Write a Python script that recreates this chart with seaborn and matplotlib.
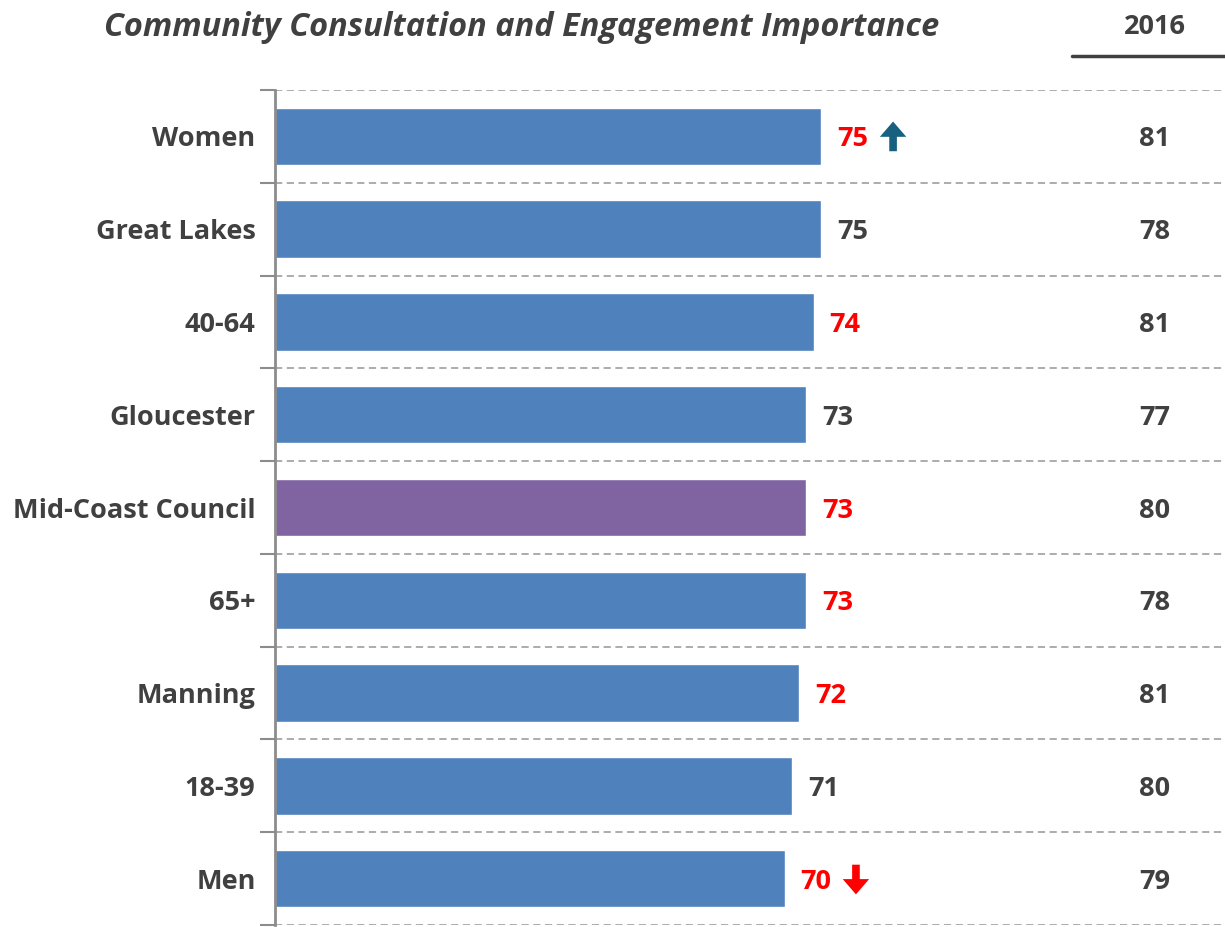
import matplotlib
matplotlib.use("Agg")
import matplotlib.pyplot as plt
import seaborn as sns
import pandas as pd
import numpy as np

categories = ["Women", "Great Lakes", "40-64", "Gloucester", "Mid-Coast Council",
              "65+", "Manning", "18-39", "Men"]
scores_2018 = [75, 75, 74, 73, 73, 73, 72, 71, 70]
scores_2016 = [81, 78, 81, 77, 80, 78, 81, 80, 79]
significant = [True, False, True, False, True, True, True, False, True]
trend = ["up", None, None, None, None, None, None, None, "down"]

sns.set_theme(style="white")
plt.rcParams["font.family"] = ["Open Sans", "DejaVu Sans"]

BLUE = "#4F81BD"
PURPLE = "#8064A2"
DARK = "#404040"
RED = "#FF0000"
TEAL = "#17607F"
FS = 19.5

df = pd.DataFrame({"category": categories, "score": scores_2018})
df["group"] = np.where(df["category"] == "Mid-Coast Council", "council", "other")

fig = plt.figure(figsize=(12.25, 9.27), dpi=100)
ax = fig.add_axes([275 / 1225, 2 / 927, 950 / 1225, (927 - 92) / 927])

sns.barplot(data=df, y="category", x="score", hue="group", orient="h",
            palette={"council": PURPLE, "other": BLUE}, dodge=False,
            width=0.62, legend=False, ax=ax, saturation=1)

ax.set_xlim(0, 950 / 7.28)
ax.set_ylim(len(categories) - 0.5, -0.5)
ax.set_xlabel("")
ax.set_ylabel("")
ax.set_xticks([])

# category boundaries as dashed separators
bounds = np.arange(-0.5, len(categories), 1.0)
for b in bounds:
    ax.axhline(b, color="#A6A6A6", lw=1.3, ls=(0, (4, 2.5)), zorder=0)
ax.set_yticks(bounds, minor=True)
ax.tick_params(axis="y", which="minor", left=True, length=11, width=1.5,
               color="#8C8C8C", direction="out")
ax.tick_params(axis="y", which="major", left=False, length=0, pad=14)
for lbl in ax.get_yticklabels():
    lbl.set_fontweight("bold")
    lbl.set_fontsize(FS)
    lbl.set_color(DARK)

for side in ["top", "right", "bottom"]:
    ax.spines[side].set_visible(False)
ax.spines["left"].set_color("#8C8C8C")
ax.spines["left"].set_linewidth(2)

# value labels and significance arrows
arrow_style = "simple,head_width=1.9,head_length=1.1,tail_width=0.55"
for i, (v, sig, tr) in enumerate(zip(scores_2018, significant, trend)):
    ax.text(v + 2.2, i, f"{v}", va="center_baseline", ha="left", fontsize=FS,
            fontweight="bold", color=RED if sig else DARK)
    if tr == "up":
        ax.annotate("", xy=(v + 9.9, i - 0.16), xytext=(v + 9.9, i + 0.16),
                    arrowprops=dict(arrowstyle=arrow_style, mutation_scale=10,
                                    color=TEAL, lw=0, shrinkA=0, shrinkB=0))
    elif tr == "down":
        ax.annotate("", xy=(v + 9.8, i + 0.17), xytext=(v + 9.8, i - 0.15),
                    arrowprops=dict(arrowstyle=arrow_style, mutation_scale=10,
                                    color=RED, lw=0, shrinkA=0, shrinkB=0))

# 2016 comparison column
col_x = (1155 - 275) / 7.28
for i, v in enumerate(scores_2016):
    ax.text(col_x, i, f"{v}", va="center_baseline", ha="center", fontsize=FS,
            fontweight="bold", color=DARK)

fig.text(1155 / 1225, 1 - 24 / 927, "2016", ha="center", va="center_baseline",
         fontsize=FS, fontweight="bold", color=DARK)
fig.add_artist(plt.Line2D([1072 / 1225, 1.0], [1 - 56 / 927, 1 - 56 / 927],
                          color=DARK, lw=2.5, transform=fig.transFigure))

fig.text(522 / 1225, 1 - 24 / 927,
         "Community Consultation and Engagement Importance",
         ha="center", va="center_baseline", fontsize=23.4, fontweight="bold",
         fontstyle="italic", color=DARK)

fig.savefig("out.png", dpi=100)
